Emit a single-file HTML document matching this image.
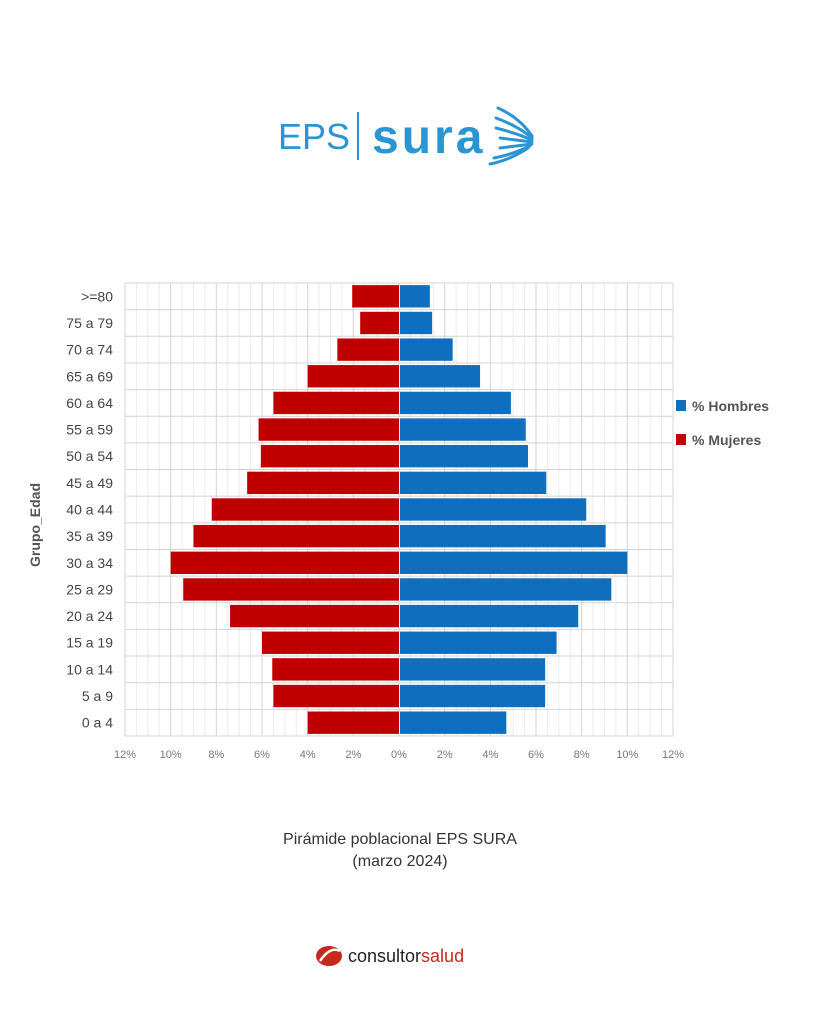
<!DOCTYPE html>
<html><head><meta charset="utf-8"><style>
body{margin:0;background:#fff;width:819px;height:1024px;overflow:hidden;font-family:"Liberation Sans",sans-serif}
</style></head><body>
<svg width="819" height="1024" xmlns="http://www.w3.org/2000/svg">
<g>
<text x="278" y="149" font-size="36" fill="#2a95d3" font-family="Liberation Sans">EPS</text>
<rect x="357" y="112" width="2" height="48" fill="#2a95d3"/>
<text x="372" y="153" font-size="48" font-weight="bold" fill="#2a95d3" font-family="Liberation Sans" letter-spacing="3">sura</text>
<g stroke="#2a95d3" stroke-width="3" fill="none" stroke-linecap="round">
<path d="M498 108 Q520 118 532 136"/><path d="M496 118 Q518 126 532 138"/><path d="M496 128 Q516 133 532 140"/><path d="M500 138 L532 142"/><path d="M500 148 Q516 146 532 144"/><path d="M494 158 Q514 154 530 146"/><path d="M490 164 Q510 160 528 148"/>
</g></g>
<g id="chart"></g>
<text x="400" y="844" text-anchor="middle" font-size="16" fill="#333">Pirámide poblacional EPS SURA</text>
<text x="400" y="866" text-anchor="middle" font-size="16" fill="#333">(marzo 2024)</text>
<g>
<ellipse cx="329" cy="956" rx="13" ry="10" fill="#c8281e"/>
<path d="M320 961 Q330 946 340 951" stroke="#fff" stroke-width="2.5" fill="none"/>
<text x="348" y="962" font-size="18" fill="#222">consultor<tspan fill="#c8281e">salud</tspan></text>
</g>
</svg>
<script>
const categories=[">=80","75 a 79","70 a 74","65 a 69","60 a 64","55 a 59","50 a 54","45 a 49","40 a 44","35 a 39","30 a 34","25 a 29","20 a 24","15 a 19","10 a 14","5 a 9","0 a 4"];
const mujeres=[2.05,1.7,2.7,4.0,5.5,6.15,6.05,6.65,8.2,9.0,10.0,9.45,7.4,6.0,5.55,5.5,4.0];
const hombres=[1.35,1.45,2.35,3.55,4.9,5.55,5.65,6.45,8.2,9.05,10.0,9.3,7.85,6.9,6.4,6.4,4.7];
const tickValues=[-12,-10,-8,-6,-4,-2,0,2,4,6,8,10,12];
const tickLabels=["12%","10%","8%","6%","4%","2%","0%","2%","4%","6%","8%","10%","12%"];
const NS="http://www.w3.org/2000/svg";
const g=document.getElementById('chart');
const X0=125,X1=673,Y0=283,Y1=736;
const x=v=>X0+(v+12)/24*(X1-X0);
const band=(Y1-Y0)/categories.length;
const y=i=>Y0+i*band;
function el(t,a){const e=document.createElementNS(NS,t);for(const k in a)e.setAttribute(k,a[k]);g.appendChild(e);return e;}
for(let v=-12;v<=12;v+=0.5){const l=el('line',{x1:x(v),x2:x(v),y1:Y0,y2:Y1,stroke:(v%2===0)?'#d4d4d4':'#ececec','stroke-width':1});

}
for(let i=0;i<=categories.length;i++){const l=el('line',{x1:X0,x2:X1,y1:y(i),y2:y(i),stroke:'#d4d4d4','stroke-width':1});

}
categories.forEach((c,i)=>{
const bh=band*0.84,by=y(i)+(band-bh)/2;
const r=el('rect',{x:x(-mujeres[i]),y:by,width:x(0)-x(-mujeres[i]),height:bh,fill:'#c00000'});


const b=el('rect',{x:x(0)+1,y:by,width:x(hombres[i])-x(0)-1,height:bh,fill:'#0f6ebe'});


const t=el('text',{x:X0-12,y:y(i)+band/2+5,'text-anchor':'end','font-size':14,fill:'#444'});t.textContent=c;


});
tickValues.forEach((v,i)=>{const t=el('text',{x:x(v),y:758,'text-anchor':'middle','font-size':11,fill:'#777'});t.textContent=tickLabels[i];

});
const yt=el('text',{x:0,y:0,transform:'translate(40,525) rotate(-90)','text-anchor':'middle','font-size':14,'font-weight':'bold',fill:'#555'});yt.textContent='Grupo_Edad';


[['% Hombres','#0f6ebe',406],['% Mujeres','#c00000',440]].forEach(([n,c,yy])=>{
const r=el('rect',{x:676,y:yy-6,width:10,height:11,fill:c});


const t=el('text',{x:692,y:yy+5,'font-size':14,'font-weight':'bold',fill:'#555'});t.textContent=n;


});
</script>
</body></html>
